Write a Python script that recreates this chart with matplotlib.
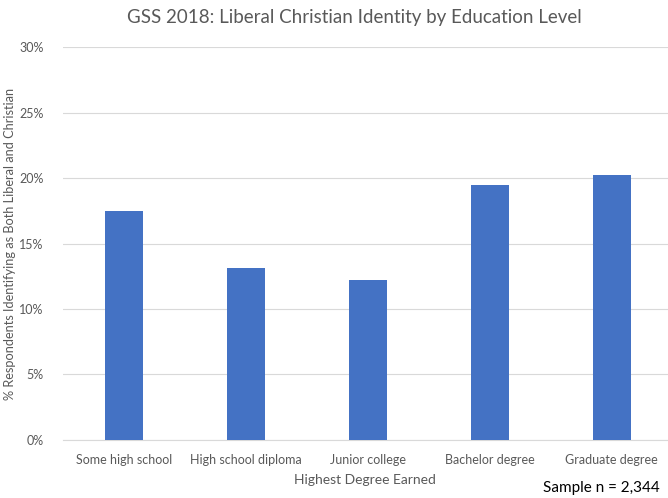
import matplotlib.pyplot as plt
from matplotlib.ticker import PercentFormatter

plt.rcParams['font.family'] = ['Lato', 'DejaVu Sans']

categories = ['Some high school', 'High school diploma', 'Junior college',
              'Bachelor degree', 'Graduate degree']
values = [17.5, 13.1, 12.2, 19.5, 20.2]
yticks = [0, 5, 10, 15, 20, 25, 30]

grey = '#595959'

fig = plt.figure(figsize=(6.68, 4.98), dpi=100)
ax = fig.add_axes([0.094, 0.1165, 0.906, 0.789])

ax.bar(range(len(categories)), values, width=0.31, color='#4472C4', zorder=3)

ax.set_xlim(-0.5, 4.46)
ax.set_ylim(0, 30)
ax.set_yticks(yticks)
ax.yaxis.set_major_formatter(PercentFormatter(decimals=0))
ax.set_xticks(range(len(categories)))
ax.set_xticklabels(categories)
ax.grid(axis='y', color='#D9D9D9', linewidth=0.8, zorder=0)

for side in ['top', 'right', 'left']:
    ax.spines[side].set_visible(False)
ax.spines['bottom'].set_color('#D9D9D9')
ax.tick_params(axis='both', length=0, colors=grey, labelsize=9)
ax.tick_params(axis='x', pad=10)
ax.tick_params(axis='y', pad=14)

ax.set_xlabel('Highest Degree Earned', color=grey, fontsize=10, labelpad=6)
ax.set_ylabel('% Respondents Identifying as Both Liberal and Christian',
              color=grey, fontsize=9.2)
ax.yaxis.set_label_coords(-0.078, 0.5)
fig.text(0.53, 0.965, 'GSS 2018: Liberal Christian Identity by Education Level',
         ha='center', va='center', color=grey, fontsize=13.5)
fig.text(0.988, 0.006, 'Sample n = 2,344', ha='right', va='bottom',
         color='black', fontsize=11)

fig.savefig('out.png', dpi=100)
